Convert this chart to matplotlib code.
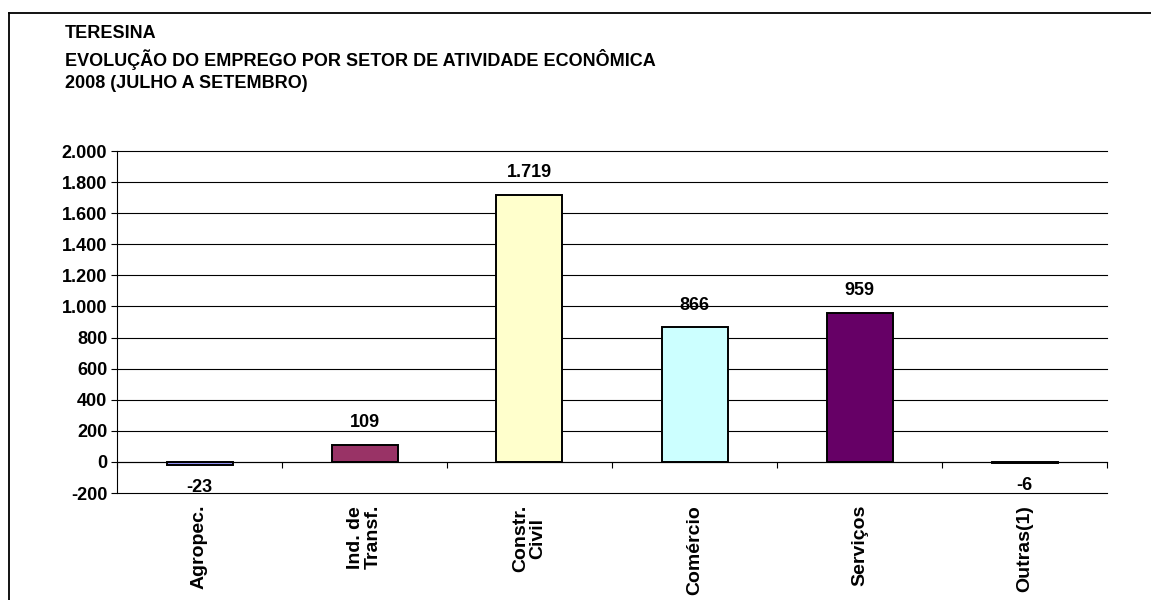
import numpy as np
import matplotlib
matplotlib.use('Agg')
import matplotlib.pyplot as plt
from matplotlib.lines import Line2D
from matplotlib.ticker import FuncFormatter, MultipleLocator

## Data:
setores = ['Agropec.', 'Ind. de\nTransf.', 'Constr.\nCivil', 'Comércio', 'Serviços', 'Outras(1)']
saldo = [-23, 109, 1719, 866, 959, -6]
cores = ['#9999FF', '#993366', '#FFFFCC', '#CCFFFF', '#660066', '#FF8080']

titulo = ['TERESINA',
          'EVOLUÇÃO DO EMPREGO POR SETOR DE ATIVIDADE ECONÔMICA',
          '2008 (JULHO A SETEMBRO)']

plt.rcParams['font.family'] = ['Liberation Sans', 'DejaVu Sans']
plt.rcParams['font.weight'] = 'bold'


def br(v, pos=None):
    # thousands separator with a dot, as in pt-BR
    return f"{int(v):,}".replace(',', '.')


fig = plt.figure(figsize=(11.51, 6.0), dpi=100)
ax = fig.add_axes([117 / 1151, 1 - 493 / 600, 990 / 1151, 342 / 600])

## Outer frame (top and left edges only)
fig.add_artist(Line2D([9 / 1151, 1.0], [1 - 13 / 600, 1 - 13 / 600], transform=fig.transFigure,
                      color='black', lw=1.3))
fig.add_artist(Line2D([9 / 1151, 9 / 1151], [0.0, 1 - 13 / 600], transform=fig.transFigure,
                      color='black', lw=1.3))

## Title block
for i, linha in enumerate(titulo):
    fig.text(65 / 1151, 1 - (34 + 25 * i) / 600, linha, fontsize=13, fontweight='bold',
             ha='left', va='center')

## Bars
x = np.arange(len(setores)) + 0.5
ax.bar(x, saldo, width=0.4, color=cores, edgecolor='black', linewidth=1.4, zorder=3)

for xi, v in zip(x, saldo):
    off = 16 if v >= 0 else -16
    ax.annotate(br(v), (xi, v), xytext=(0, off), textcoords='offset points',
                ha='center', va='center', fontsize=13, fontweight='bold', zorder=4)

## Axes
ax.set_xlim(0, 6)
ax.set_ylim(-200, 2000)
ax.yaxis.set_major_locator(MultipleLocator(200))
ax.yaxis.set_major_formatter(FuncFormatter(br))
ax.grid(axis='y', color='black', linewidth=0.8, zorder=0)
ax.set_axisbelow(True)
for g in ax.get_ygridlines():
    g.set_clip_on(False)  # keep the -200 and 2.000 lines fully visible

ax.spines['top'].set_visible(False)
ax.spines['right'].set_visible(False)
ax.spines['bottom'].set_position(('data', 0))
ax.spines['bottom'].set_zorder(4)
ax.spines['left'].set_linewidth(0.8)
ax.spines['bottom'].set_linewidth(0.8)

ax.set_xticks(x)
ax.set_xticklabels(setores, rotation=90, ha='center', va='top', multialignment='center',
                   fontsize=14, fontweight='bold', linespacing=1.0)
ax.tick_params(axis='x', which='major', length=0, pad=31)
ax.set_xticks(np.arange(0, 7), minor=True)
ax.tick_params(axis='x', which='minor', length=4, width=0.8, direction='out')
ax.tick_params(axis='y', length=4, width=0.8, labelsize=13, pad=3)
for lbl in ax.get_yticklabels():
    lbl.set_fontweight('bold')

fig.savefig('out.png', dpi=100, facecolor='white')
